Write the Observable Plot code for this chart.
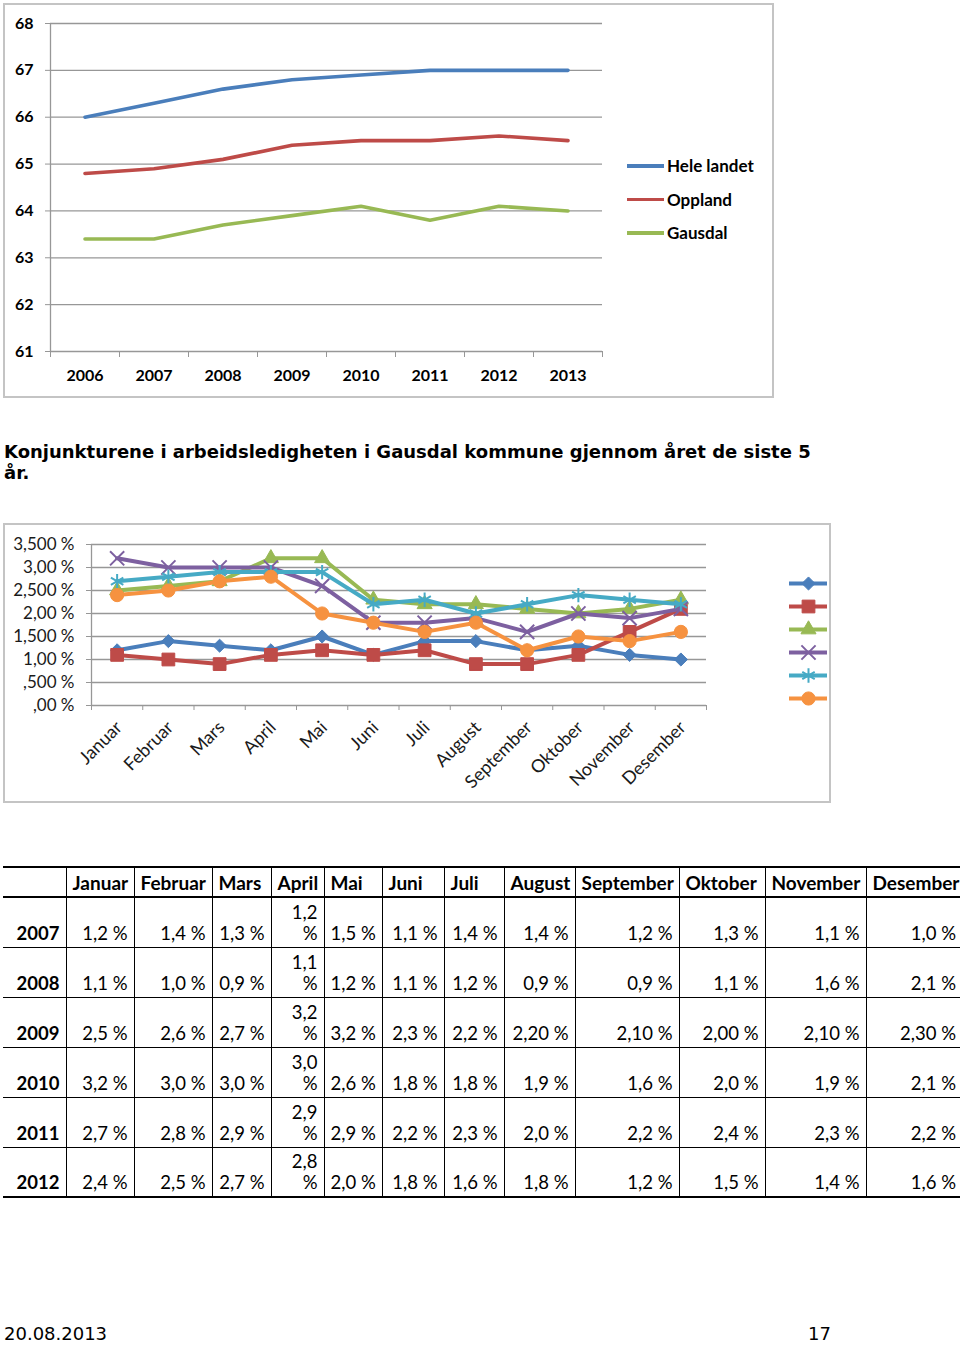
<!DOCTYPE html>
<html><head><meta charset="utf-8">
<script src="https://cdn.jsdelivr.net/npm/d3@7"></script>
<script src="https://cdn.jsdelivr.net/npm/@observablehq/plot@0.6"></script>
<style>
html,body{margin:0;padding:0;background:#fff;}
body{width:960px;height:1345px;position:relative;overflow:hidden;font-family:Lato,sans-serif;color:#000;}
.abs{position:absolute;}
.box{position:absolute;border:2px solid #c4c4c4;box-sizing:border-box;}
#title{left:4px;top:441px;font-family:"DejaVu Sans",Verdana,sans-serif;font-weight:bold;font-size:18px;line-height:21px;white-space:nowrap;}
#footer-date{left:4px;top:1323px;font-family:"DejaVu Sans",Verdana,sans-serif;font-size:18px;line-height:22px;}
#footer-page{left:808px;top:1323px;font-family:"DejaVu Sans",Verdana,sans-serif;font-size:18px;line-height:22px;}
.leg1{left:627px;top:149px;}
.leg1 .item{display:flex;align-items:center;height:33.5px;}
.leg1 .sw{width:37px;height:3.5px;margin-right:3px;}
.leg1 .lab{font-weight:bold;font-size:17px;}
table{position:absolute;left:3px;top:866px;border-collapse:collapse;table-layout:fixed;width:959px;font-family:Lato,sans-serif;}
td,th{padding:0 6px 3px 6px;vertical-align:bottom;font-size:18.5px;line-height:21px;overflow:visible;white-space:nowrap;}
th{font-weight:bold;text-align:left;font-size:19px;border-left:1px solid #000;}
th:first-child{border-left:none;}
td{text-align:right;border-left:1px solid #000;}
td:first-child{border-left:none;font-weight:bold;}
tr.h{height:30px;border-top:2px solid #000;border-bottom:2px solid #000;}
tr.r{height:50px;border-bottom:1.5px solid #000;}
tr.r.last{border-bottom:2px solid #000;}
</style></head><body>
<div class="box" style="left:3px;top:3px;width:771px;height:395px;"></div>
<div id="c1" class="abs" style="left:0;top:0;"></div>
<div id="leg1" class="abs leg1"></div>
<div id="title" class="abs">Konjunkturene i arbeidsledigheten i Gausdal kommune gjennom året de siste 5<br>år.</div>
<div class="box" style="left:3px;top:523px;width:828px;height:280px;"></div>
<div id="c2" class="abs" style="left:0;top:520px;"></div>
<div id="leg2" class="abs" style="left:789px;top:571px;"></div>
<div id="tbl"></div>
<div id="footer-date" class="abs">20.08.2013</div>
<div id="footer-page" class="abs">17</div>
<script>
// ---------- Chart 1 data ----------
const years = ["2006","2007","2008","2009","2010","2011","2012","2013"];
const heleLandet = [66.0, 66.3, 66.6, 66.8, 66.9, 67.0, 67.0, 67.0];
const oppland    = [64.8, 64.9, 65.1, 65.4, 65.5, 65.5, 65.6, 65.5];
const gausdal    = [63.4, 63.4, 63.7, 63.9, 64.1, 63.8, 64.1, 64.0];
const seriesNames1 = ["Hele landet", "Oppland", "Gausdal"];
const yTicks1 = [61, 62, 63, 64, 65, 66, 67, 68];

// ---------- Chart 2 / table data ----------
const months = ["Januar","Februar","Mars","April","Mai","Juni","Juli","August","September","Oktober","November","Desember"];
const tableYears = ["2007","2008","2009","2010","2011","2012"];
const v2007 = ["1,2","1,4","1,3","1,2","1,5","1,1","1,4","1,4","1,2","1,3","1,1","1,0"];
const v2008 = ["1,1","1,0","0,9","1,1","1,2","1,1","1,2","0,9","0,9","1,1","1,6","2,1"];
const v2009 = ["2,5","2,6","2,7","3,2","3,2","2,3","2,2","2,20","2,10","2,00","2,10","2,30"];
const v2010 = ["3,2","3,0","3,0","3,0","2,6","1,8","1,8","1,9","1,6","2,0","1,9","2,1"];
const v2011 = ["2,7","2,8","2,9","2,9","2,9","2,2","2,3","2,0","2,2","2,4","2,3","2,2"];
const v2012 = ["2,4","2,5","2,7","2,8","2,0","1,8","1,6","1,8","1,2","1,5","1,4","1,6"];
const yTicks2 = [0, 0.5, 1, 1.5, 2, 2.5, 3, 3.5];
const yTickLabels2 = [",00 %", ",500 %", "1,00 %", "1,500 %", "2,00 %", "2,500 %", "3,00 %", "3,500 %"];

// ---------- styles ----------
const colors1 = ["#4A7EBB", "#BE4B48", "#98B954"];
const colors2 = ["#4A7EBB", "#BE4B48", "#98B954", "#7D60A0", "#46AAC5", "#F69240"];
const symbols2 = ["diamond2", "square", "triangle", "times", "asterisk", "circle"];
const symR2 = [5.9, 7.2, 5.6, 6.5, 6.8, 6.6];
const symFilled2 = [true, true, true, false, false, true];
const grid = "#979797";

// ---------- Chart 1 ----------
const series1 = [heleLandet, oppland, gausdal];
const data1 = [];
series1.forEach((arr, s) => arr.forEach((v, i) => data1.push({series: seriesNames1[s], i, v})));
const n1 = years.length;
const bounds1 = d3.range(n1 + 1).map(k => k - 0.5);
const c1 = Plot.plot({
  width: 620, height: 400,
  marginLeft: 50, marginRight: 18, marginTop: 23, marginBottom: 49,
  style: {fontFamily: "Lato, sans-serif", background: "transparent", overflow: "visible"},
  x: {domain: [-0.5, n1 - 0.5], axis: null},
  y: {domain: [61, 68], axis: null},
  color: {domain: seriesNames1, range: colors1},
  marks: [
    Plot.ruleY(yTicks1, {y: d => d, x1: -0.5, x2: n1 - 0.5, stroke: grid, strokeWidth: 1.3}),
    Plot.axisY({ticks: yTicks1, tickSize: 5, tickFormat: () => "", label: null, color: grid}),
    Plot.axisX({ticks: bounds1, tickSize: 6, tickFormat: () => "", label: null, color: grid}),
    Plot.ruleX([-0.5], {stroke: grid, strokeWidth: 1.3}),
    Plot.text(yTicks1, {x: -0.5, y: d => d, text: d => String(d), dx: -17, textAnchor: "end", fontWeight: "bold", fontSize: 16, fill: "#000"}),
    Plot.text(years, {x: (d, i) => i, y: 61, text: d => d, dy: 24, fontWeight: "bold", fontSize: 16, fill: "#000"}),
    Plot.line(data1, {x: "i", y: "v", z: "series", stroke: "series", strokeWidth: 3.6})
  ]
});
document.getElementById("c1").appendChild(c1);

// legend 1
const leg1 = document.getElementById("leg1");
seriesNames1.forEach((name, s) => {
  const it = document.createElement("div"); it.className = "item";
  const sw = document.createElement("div"); sw.className = "sw"; sw.style.background = colors1[s];
  const lb = document.createElement("div"); lb.className = "lab"; lb.textContent = name;
  it.appendChild(sw); it.appendChild(lb); leg1.appendChild(it);
});

// ---------- Chart 2 ----------
const series2 = [v2007, v2008, v2009, v2010, v2011, v2012];
const num = s => +s.replace(",", ".");
const n2 = months.length;
const bounds2 = d3.range(n2 + 1).map(k => k - 0.5);
const seriesMarks = [];
series2.forEach((arr, s) => {
  const d = arr.map((str, i) => ({i, v: num(str)}));
  seriesMarks.push(Plot.line(d, {x: "i", y: "v", stroke: colors2[s], strokeWidth: 4}));
  seriesMarks.push(Plot.dot(d, {x: "i", y: "v", symbol: () => symbols2[s], r: symR2[s],
    fill: symFilled2[s] ? colors2[s] : "none", stroke: colors2[s], strokeWidth: symFilled2[s] ? 1 : 2}));
});
const c2 = Plot.plot({
  width: 720, height: 290,
  marginLeft: 91, marginRight: 14, marginTop: 24, marginBottom: 105,
  style: {fontFamily: "Lato, sans-serif", background: "transparent", overflow: "visible"},
  x: {domain: [-0.5, n2 - 0.5], axis: null},
  y: {domain: [0, 3.5], axis: null},
  symbol: {type: "identity"},
  marks: [
    Plot.ruleY(yTicks2, {y: d => d, x1: -0.5, x2: n2 - 0.5, stroke: grid, strokeWidth: 1.3}),
    Plot.axisY({ticks: yTicks2, tickSize: 5, tickFormat: () => "", label: null, color: grid}),
    Plot.axisX({ticks: bounds2, tickSize: 5, tickFormat: () => "", label: null, color: grid}),
    Plot.ruleX([-0.5], {stroke: grid, strokeWidth: 1.3}),
    Plot.text(yTicks2, {x: -0.5, y: d => d, text: (d, i) => yTickLabels2[i], dx: -17, textAnchor: "end", fontSize: 17, fill: "#1a1a1a"}),
    Plot.text(months, {x: (d, i) => i, y: 0, text: d => d, rotate: -45, textAnchor: "end", dx: 2, dy: 19, fontSize: 18, fill: "#1a1a1a"}),
    ...seriesMarks
  ]
});
document.getElementById("c2").appendChild(c2);

// legend 2
const c3 = Plot.plot({
  width: 38, height: 138, margin: 0,
  style: {background: "transparent", overflow: "visible"},
  x: {domain: [0, 1], axis: null},
  y: {type: "point", domain: tableYears, padding: 0.5, axis: null},
  symbol: {type: "identity"},
  marks: tableYears.flatMap((yr, s) => [
    Plot.ruleY([yr], {x1: 0, x2: 1, stroke: colors2[s], strokeWidth: 4}),
    Plot.dot([yr], {x: 0.5, y: d => d, symbol: () => symbols2[s], r: symR2[s],
      fill: symFilled2[s] ? colors2[s] : "none", stroke: colors2[s], strokeWidth: symFilled2[s] ? 1 : 2})
  ])
});
document.getElementById("leg2").appendChild(c3);

// ---------- Table ----------
const colW = [63, 68, 78, 59, 53, 58, 62, 60, 71, 104, 86, 101, 96];
let html = "<table><colgroup>" + colW.map(w => `<col style="width:${w}px">`).join("") + "</colgroup>";
html += '<tr class="h"><th></th>' + months.map(m => `<th>${m}</th>`).join("") + "</tr>";
series2.forEach((arr, s) => {
  html += `<tr class="r${s === series2.length - 1 ? " last" : ""}"><td>${tableYears[s]}</td>` +
    arr.map((v, i) => i === 3 ? `<td>${v}<br>%</td>` : `<td>${v} %</td>`).join("") + "</tr>";
});
html += "</table>";
document.getElementById("tbl").innerHTML = html;
</script>
</body></html>
